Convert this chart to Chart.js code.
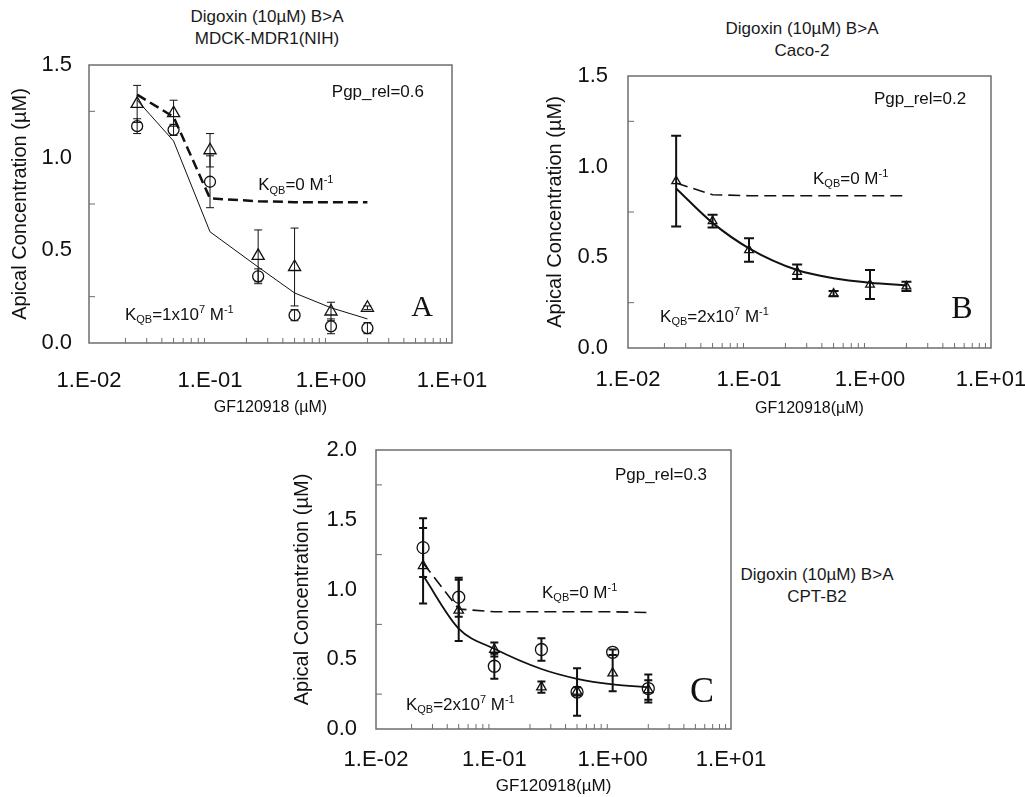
<!DOCTYPE html>
<html>
<head>
<meta charset="utf-8">
<script src="https://cdn.jsdelivr.net/npm/chart.js@4.4.1/dist/chart.umd.min.js"></script>
<style>
  html, body { margin: 0; padding: 0; background: #fff; width: 1025px; height: 797px; overflow: hidden; position: relative; }
  body { font-family: "Liberation Sans", Arial, sans-serif; color: #1a1a1a; }
  .panel { position: absolute; }
  .ttl { position: absolute; font-size: 17px; line-height: 22px; text-align: center; transform: translateX(-50%); white-space: nowrap; }
</style>
</head>
<body>
<div class="ttl" style="left:267px;top:6px">Digoxin (10µM) B&gt;A<br>MDCK-MDR1(NIH)</div>
<div class="ttl" style="left:802px;top:18px">Digoxin (10µM) B&gt;A<br>Caco-2</div>
<div class="ttl" style="left:817px;top:564px">Digoxin (10µM) B&gt;A<br>CPT-B2</div>

<div class="panel" style="left:0;top:0;width:492px;height:421px"><canvas id="chartA"></canvas></div>
<div class="panel" style="left:535px;top:0;width:490px;height:422px"><canvas id="chartB"></canvas></div>
<div class="panel" style="left:280px;top:400px;width:491px;height:397px"><canvas id="chartC"></canvas></div>

<script>
// shared axes
const xDose = [0.025, 0.05, 0.1, 0.25, 0.5, 1, 2];
const xTickVals = [0.01, 0.1, 1, 10];
const xTickText = ['1.E-02', '1.E-01', '1.E+00', '1.E+01'];
const yTicksAB = [0, 0.5, 1.0, 1.5];
const yTicksC = [0, 0.5, 1.0, 1.5, 2.0];

// Panel A - MDCK-MDR1(NIH)
const aTri = [1.29, 1.24, 1.04, 0.47, 0.41, 0.17, 0.19];
const aTriErr = [0.10, 0.07, 0.09, 0.14, 0.21, 0.05, 0.01];
const aCirc = [1.17, 1.15, 0.87, 0.36, 0.15, 0.09, 0.08];
const aCircErr = [0.04, 0.03, 0.14, 0.04, 0.03, 0.04, 0.03];
const aFitK = [1.31, 1.09, 0.60, 0.41, 0.27, 0.19, 0.13];
const aFit0 = [1.34, 1.22, 0.78, 0.765, 0.76, 0.76, 0.76];

// Panel B - Caco-2
const bTri = [0.92, 0.70, 0.54, 0.42, 0.30, 0.35, 0.34];
const bTriErr = [0.25, 0.035, 0.065, 0.04, 0.015, 0.08, 0.025];
const bFitK = [0.88, 0.69, 0.55, 0.43, 0.385, 0.36, 0.345];
const bFit0 = [0.91, 0.845, 0.84, 0.84, 0.84, 0.84, 0.84];

// Panel C - CPT-B2
const cTri = [1.17, 0.85, 0.57, 0.30, 0.27, 0.40, 0.28];
const cTriErr = [0.27, 0.22, 0.05, 0.04, 0.03, 0.13, 0.07];
const cCirc = [1.30, 0.945, 0.45, 0.57, 0.265, 0.55, 0.29];
const cCircErr = [0.21, 0.14, 0.09, 0.08, 0.17, 0.02, 0.10];
const cFitK = [1.10, 0.72, 0.575, 0.43, 0.36, 0.32, 0.30];
const cFit0 = [1.19, 0.86, 0.84, 0.84, 0.84, 0.84, 0.835];

const INK = '#111';
const SANS = '"Liberation Sans", Arial, sans-serif';
const SERIF = '"Liberation Serif", "Times New Roman", serif';

function pts(ys) { return xDose.map((x, i) => ({ x: x, y: ys[i] })); }

function kLabel(val) {
  // K_QB=<val> M^-1 ; val may carry a superscript exponent
  const parts = [{ t: 'K' }, { t: 'QB', s: 'sub' }];
  if (val.exp) parts.push({ t: '=' + val.base }, { t: val.exp, s: 'sup' });
  else parts.push({ t: '=' + val.base });
  parts.push({ t: ' M' }, { t: '-1', s: 'sup' });
  return parts;
}

function drawRich(ctx, parts, x, y, size, align) {
  const small = Math.round(size * 0.62);
  const fontOf = p => (p.s ? small : size) + 'px ' + SANS;
  let w = 0;
  parts.forEach(p => { ctx.font = fontOf(p); w += ctx.measureText(p.t).width; });
  let cx = align === 'center' ? x - w / 2 : x;
  ctx.textAlign = 'left';
  ctx.textBaseline = 'middle';
  parts.forEach(p => {
    ctx.font = fontOf(p);
    const dy = p.s === 'sub' ? size * 0.3 : p.s === 'sup' ? -size * 0.3 : 0;
    ctx.fillText(p.t, cx, y + dy);
    cx += ctx.measureText(p.t).width;
  });
}

function makeDeco(p) {
  return {
    id: 'deco' + p.id,
    afterDatasetsDraw(chart) {
      const ctx = chart.ctx, ys = chart.scales.y;
      ctx.save();
      ctx.strokeStyle = INK;
      ctx.lineWidth = p.errW;
      chart.data.datasets.forEach((ds, di) => {
        if (!ds.err) return;
        const meta = chart.getDatasetMeta(di);
        ds.data.forEach((pt, i) => {
          const px = meta.data[i].x;
          const hi = ys.getPixelForValue(pt.y + ds.err[i]);
          const lo = ys.getPixelForValue(pt.y - ds.err[i]);
          ctx.beginPath();
          ctx.moveTo(px, hi); ctx.lineTo(px, lo);
          ctx.moveTo(px - p.cap, hi); ctx.lineTo(px + p.cap, hi);
          ctx.moveTo(px - p.cap, lo); ctx.lineTo(px + p.cap, lo);
          ctx.stroke();
        });
      });
      ctx.restore();
    },
    afterDraw(chart) {
      const ctx = chart.ctx, a = chart.chartArea;
      const xs = chart.scales.x, ys = chart.scales.y;
      ctx.save();
      // frame
      ctx.strokeStyle = '#6d6d6d';
      ctx.lineWidth = 1.5;
      ctx.strokeRect(a.left, a.top, a.right - a.left, a.bottom - a.top);
      // minor ticks, inward
      ctx.lineWidth = 1;
      ctx.beginPath();
      [0.01, 0.1, 1].forEach(dec => {
        for (let k = 2; k <= 9; k++) {
          const px = xs.getPixelForValue(k * dec);
          ctx.moveTo(px, a.bottom); ctx.lineTo(px, a.bottom - 5);
        }
      });
      p.yMinor.forEach(v => {
        const py = ys.getPixelForValue(v);
        ctx.moveTo(a.left, py); ctx.lineTo(a.left + 6, py);
      });
      ctx.stroke();
      // annotations
      ctx.fillStyle = INK;
      p.notes.forEach(n => {
        const px = xs.getPixelForValue(n.x), py = ys.getPixelForValue(n.y);
        if (n.letter) {
          ctx.font = n.size + 'px ' + SERIF;
          ctx.textAlign = 'center';
          ctx.textBaseline = 'middle';
          ctx.fillText(n.letter, px, py);
        } else {
          drawRich(ctx, n.parts, px, py, n.size, n.align);
        }
      });
      ctx.restore();
    }
  };
}

function buildPanel(p) {
  const ds = [
    { data: pts(p.fitK), showLine: true, borderColor: INK, borderWidth: p.fitW, pointRadius: 0,
      cubicInterpolationMode: p.smooth ? 'monotone' : 'default', tension: 0 },
    { data: pts(p.fit0), showLine: true, borderColor: INK, borderWidth: p.dashW, borderDash: p.dash, pointRadius: 0 }
  ];
  if (p.circ) ds.push({ data: pts(p.circ), err: p.circErr, showLine: false, pointStyle: 'circle',
    pointRadius: p.circR, pointBorderColor: INK, pointBackgroundColor: 'rgba(0,0,0,0)', pointBorderWidth: 1.3 });
  ds.push({ data: pts(p.tri), err: p.triErr, showLine: false, pointStyle: 'triangle',
    pointRadius: p.triR, pointBorderColor: INK, pointBackgroundColor: 'rgba(0,0,0,0)', pointBorderWidth: 1.3 });

  new Chart(document.getElementById(p.id), {
    type: 'scatter',
    data: { datasets: ds },
    options: {
      responsive: true, maintainAspectRatio: false, animation: false,
      layout: { padding: p.pad },
      plugins: { legend: { display: false }, tooltip: { enabled: false } },
      scales: {
        x: {
          type: 'logarithmic', min: 0.01, max: 10,
          grid: { display: false, drawTicks: false }, border: { display: false },
          afterBuildTicks: s => { s.ticks = xTickVals.map(v => ({ value: v })); },
          afterFit: s => { s.height = p.xH; s.paddingLeft = 0; s.paddingRight = 0; },
          ticks: { autoSkip: false, maxRotation: 0, padding: p.xPad, color: INK,
            font: { family: SANS, size: 22 }, callback: (v, i) => xTickText[i] },
          title: { display: true, text: p.xTitle, color: INK, padding: 0,
            font: { family: SANS, size: p.xTitleSize } }
        },
        y: {
          min: 0, max: p.yTicks[p.yTicks.length - 1],
          grid: { display: false, drawTicks: false }, border: { display: false },
          afterBuildTicks: s => { s.ticks = p.yTicks.map(v => ({ value: v })); },
          afterFit: s => { s.width = p.yW; s.paddingTop = 0; s.paddingBottom = 0; },
          ticks: { padding: p.yPad, color: INK, font: { family: SANS, size: 22 },
            callback: v => Number(v).toFixed(1) },
          title: { display: true, text: 'Apical Concentration (µM)', color: INK, padding: 0,
            font: { family: SANS, size: 20 } }
        }
      }
    },
    plugins: [makeDeco(p)]
  });
}

buildPanel({
  id: 'chartA', tri: aTri, triErr: aTriErr, circ: aCirc, circErr: aCircErr, fitK: aFitK, fit0: aFit0,
  fitW: 1, dashW: 2.5, dash: [10, 5], smooth: false, errW: 1, cap: 4, triR: 7, circR: 5.5,
  yTicks: yTicksAB, yMinor: [0.25, 0.75, 1.25],
  pad: { left: 8, top: 65, right: 40, bottom: 4 }, yW: 81, xH: 74, xPad: 25, yPad: 17,
  xTitle: 'GF120918 (µM)', xTitleSize: 16,
  notes: [
    { x: 2.44, y: 1.35, parts: [{ t: 'Pgp_rel=0.6' }], size: 17, align: 'center' },
    { x: 0.25, y: 0.85, parts: kLabel({ base: '0' }), size: 17, align: 'left' },
    { x: 0.0198, y: 0.15, parts: kLabel({ base: '1x10', exp: '7' }), size: 17, align: 'left' },
    { x: 5.65, y: 0.19, letter: 'A', size: 30 }
  ]
});

buildPanel({
  id: 'chartB', tri: bTri, triErr: bTriErr, fitK: bFitK, fit0: bFit0,
  fitW: 2, dashW: 1.6, dash: [12, 6], smooth: true, errW: 2, cap: 5, triR: 5,
  yTicks: yTicksAB, yMinor: [0.25, 0.75, 1.25],
  pad: { left: 8, top: 76, right: 34, bottom: 4 }, yW: 85, xH: 70, xPad: 19, yPad: 20,
  xTitle: 'GF120918(µM)', xTitleSize: 16,
  notes: [
    { x: 2.59, y: 1.37, parts: [{ t: 'Pgp_rel=0.2' }], size: 17, align: 'center' },
    { x: 0.338, y: 0.93, parts: kLabel({ base: '0' }), size: 17, align: 'left' },
    { x: 0.0184, y: 0.17, parts: kLabel({ base: '2x10', exp: '7' }), size: 17, align: 'left' },
    { x: 5.76, y: 0.21, letter: 'B', size: 32 }
  ]
});

buildPanel({
  id: 'chartC', tri: cTri, triErr: cTriErr, circ: cCirc, circErr: cCircErr, fitK: cFitK, fit0: cFit0,
  fitW: 1.8, dashW: 1.6, dash: [12, 6], smooth: true, errW: 2, cap: 4, triR: 5.5, circR: 6,
  yTicks: yTicksC, yMinor: [0.25, 0.75, 1.25, 1.75],
  pad: { left: 10, top: 50, right: 40, bottom: 0 }, yW: 86, xH: 68, xPad: 18, yPad: 19,
  xTitle: 'GF120918(µM)', xTitleSize: 17,
  notes: [
    { x: 2.56, y: 1.82, parts: [{ t: 'Pgp_rel=0.3' }], size: 17, align: 'center' },
    { x: 0.253, y: 0.975, parts: kLabel({ base: '0' }), size: 17, align: 'left' },
    { x: 0.0179, y: 0.17, parts: kLabel({ base: '2x10', exp: '7' }), size: 17, align: 'left' },
    { x: 5.7, y: 0.26, letter: 'C', size: 36 }
  ]
});
</script>
</body>
</html>
